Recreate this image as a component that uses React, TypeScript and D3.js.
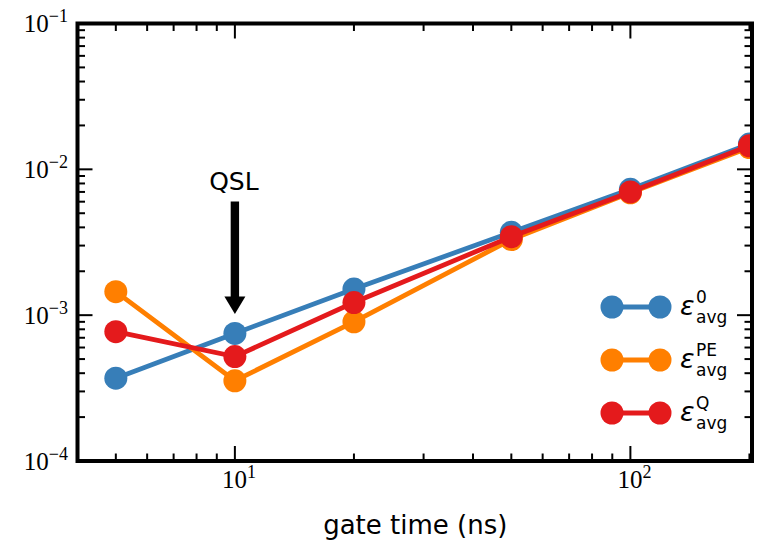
import React from "react";
import * as d3 from "d3";

const gateTimes = [5, 10, 20, 50, 100, 200];
const errZero = [3.7e-4, 7.5e-4, 1.51e-3, 3.7e-3, 7.3e-3, 1.49e-2];
const errPE = [1.45e-3, 3.55e-4, 9.0e-4, 3.3e-3, 6.9e-3, 1.41e-2];
const errQ = [7.7e-4, 5.2e-4, 1.22e-3, 3.45e-3, 7.0e-3, 1.45e-2];
const seriesNames = ["0", "PE", "Q"];
const seriesColors = ["#377eb8", "#ff7f00", "#e41a1c"];
const xMajor = [10, 100];
const xMajorExp = ["1", "2"];
const yMajor = [1e-4, 1e-3, 1e-2, 1e-1];
const yMajorExp = ["−4", "−3", "−2", "−1"];
const xLabel = "gate time (ns)";
const arrowX = 10;
const arrowLabel = "QSL";

const W = 757, H = 542;
const L = 77.5, R = 752, T = 23.5, B = 461;
const SERIF = "Liberation Serif";

export default function App() {
  const x = d3.scaleLog().domain([4, 203]).range([L, R]);
  const y = d3.scaleLog().domain([1e-4, 1e-1]).range([B, T]);
  const series = [errZero, errPE, errQ];
  const line = d3
    .line<number>()
    .x((_, i) => x(gateTimes[i]))
    .y((d) => y(d));

  const xMinor: number[] = [];
  [1, 10, 100].forEach((dec) => {
    for (let k = 2; k <= 9; k++) {
      const v = k * dec;
      if (v >= 4 && v <= 203) xMinor.push(v);
    }
  });
  const yMinor: number[] = [];
  [1e-4, 1e-3, 1e-2].forEach((dec) => {
    for (let k = 2; k <= 9; k++) yMinor.push(k * dec);
  });

  const ax = x(arrowX);
  const legendY = [307, 360, 413];

  return (
    <svg
      width={W}
      height={H}
      style={{ position: "absolute", left: 0, top: 0, background: "#fff" }}
    >
      <defs>
        <clipPath id="plot">
          <rect x={L} y={T} width={R - L} height={B - T} />
        </clipPath>
      </defs>
      <rect x={0} y={0} width={W} height={H} fill="#fff" />
      <g clipPath="url(#plot)">
        {series.map((s, si) => (
          <g key={si}>
            <path
              d={line(s) || ""}
              fill="none"
              stroke={seriesColors[si]}
              strokeWidth={4.8}
            />
            {s.map((v, i) => (
              <circle
                key={i}
                cx={x(gateTimes[i])}
                cy={y(v)}
                r={11.5}
                fill={seriesColors[si]}
              />
            ))}
          </g>
        ))}
      </g>
      {/* ticks */}
      <g stroke="#000" strokeWidth={2}>
        {xMajor.map((v) => (
          <g key={"xM" + v}>
            <line x1={x(v)} x2={x(v)} y1={B} y2={B - 15} />
            <line x1={x(v)} x2={x(v)} y1={T} y2={T + 15} />
          </g>
        ))}
        {xMinor.map((v) => (
          <g key={"xm" + v}>
            <line x1={x(v)} x2={x(v)} y1={B} y2={B - 7.5} />
            <line x1={x(v)} x2={x(v)} y1={T} y2={T + 7.5} />
          </g>
        ))}
        {yMajor.map((v) => (
          <g key={"yM" + v}>
            <line x1={L} x2={L + 15} y1={y(v)} y2={y(v)} />
            <line x1={R} x2={R - 15} y1={y(v)} y2={y(v)} />
          </g>
        ))}
        {yMinor.map((v) => (
          <g key={"ym" + v}>
            <line x1={L} x2={L + 7.5} y1={y(v)} y2={y(v)} />
            <line x1={R} x2={R - 7.5} y1={y(v)} y2={y(v)} />
          </g>
        ))}
      </g>
      <rect
        x={L}
        y={T}
        width={R - L}
        height={B - T}
        fill="none"
        stroke="#000"
        strokeWidth={4}
      />
      {/* tick labels */}
      {yMajor.map((v, i) => (
        <text
          key={"yl" + v}
          x={68}
          y={y(v) + 8.5}
          textAnchor="end"
          fontSize={25}
          fontFamily={SERIF}
          fill="#000"
        >
          10
          <tspan fontSize={18} dy={-10} fontFamily={SERIF}>
            {yMajorExp[i]}
          </tspan>
        </text>
      ))}
      {xMajor.map((v, i) => (
        <text
          key={"xl" + v}
          x={x(v) + 4}
          y={488}
          textAnchor="middle"
          fontSize={25}
          fontFamily={SERIF}
          fill="#000"
        >
          10
          <tspan fontSize={18} dy={-10} fontFamily={SERIF}>
            {xMajorExp[i]}
          </tspan>
        </text>
      ))}
      <text
        x={(L + R) / 2 + 0.5}
        y={534}
        textAnchor="middle"
        fontFamily="DejaVu Sans"
        fontSize={26}
        fill="#000"
      >
        {xLabel}
      </text>
      {/* arrow annotation */}
      <text
        x={ax - 1}
        y={190}
        textAnchor="middle"
        fontFamily="DejaVu Sans"
        fontSize={25}
        fill="#000"
      >
        {arrowLabel}
      </text>
      <rect x={ax - 4.2} y={201.5} width={8.4} height={96} fill="#000" />
      <path
        d={`M${ax - 10.5},${296.5} L${ax + 10.5},${296.5} L${ax},${314} Z`}
        fill="#000"
      />
      {/* legend */}
      {seriesNames.map((n, i) => (
        <g key={"lg" + n}>
          <line
            x1={612}
            x2={660}
            y1={legendY[i]}
            y2={legendY[i]}
            stroke={seriesColors[i]}
            strokeWidth={4.8}
          />
          <circle cx={612} cy={legendY[i]} r={11.5} fill={seriesColors[i]} />
          <circle cx={660} cy={legendY[i]} r={11.5} fill={seriesColors[i]} />
          <text
            x={680}
            y={legendY[i] + 8}
            fontFamily="DejaVu Sans"
            fontSize={27}
            fill="#000"
          >
            <tspan fontStyle="italic">ε</tspan>
            <tspan x={696} dy={-12} fontSize={17}>
              {n}
            </tspan>
            <tspan x={696} dy={20} fontSize={17}>
              avg
            </tspan>
          </text>
        </g>
      ))}
    </svg>
  );
}
